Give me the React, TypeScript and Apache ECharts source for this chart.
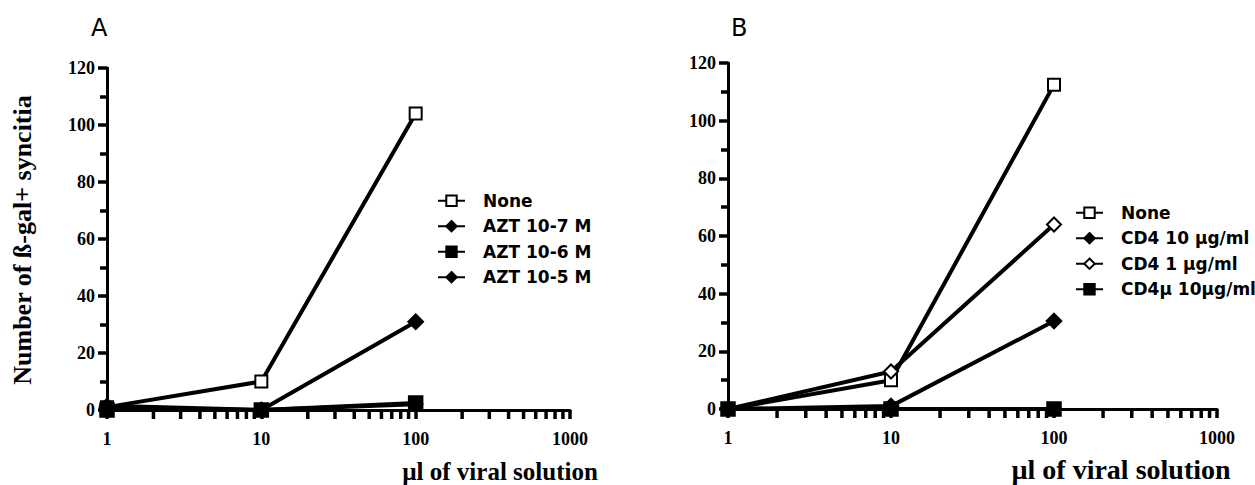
import React, { useEffect, useRef } from "react";
import * as echarts from "echarts";

const xTickLabels = ["1", "10", "100", "1000"];
const minorTickX = [2, 3, 4, 5, 6, 7, 8, 9, 20, 30, 40, 50, 60, 70, 80, 90, 200, 300, 400, 500, 600, 700, 800, 900];
const volumes = [1, 10, 100];

const namesA = ["None", "AZT 10-7 M", "AZT 10-6 M", "AZT 10-5 M"];
const noneA = [1, 10, 104];
const azt7 = [1, 0, 31];
const azt6 = [0, 0, 2.5];
const azt5 = [1.5, 0, 2];

const namesB = ["None", "CD4 10 µg/ml", "CD4 1 µg/ml", "CD4µ 10µg/ml"];
const noneB = [0, 10, 112.5];
const cd4_10 = [0, 1, 30.5];
const cd4_1 = [0, 13, 64];
const cd4mu = [0, 0, 0];

const SERIF = "'Liberation Serif', 'Times New Roman', serif";
const SANS = "'DejaVu Sans', 'Liberation Sans', Arial, sans-serif";

function pairs(vals: number[]) {
  return volumes.map((v, i) => [v, vals[i]]);
}

export default function App() {
  const ref = useRef<HTMLDivElement>(null);
  useEffect(() => {
    if (!ref.current) return;
    const chart = echarts.init(ref.current, undefined, { renderer: "svg" });

    const xAxisBase = (gridIndex: number) => ({
      type: "log" as const,
      logBase: 10,
      gridIndex,
      min: 1,
      max: 1000,
      axisLine: { show: true, onZero: false, lineStyle: { color: "#000", width: 3 } },
      axisTick: { show: true, inside: false, length: 9, lineStyle: { color: "#000", width: 3.5, opacity: 1 } },
      axisLabel: {
        show: true,
        margin: 20,
        color: "#000",
        fontFamily: SERIF,
        fontWeight: "bold",
        fontSize: 18,
        formatter: (v: number) => {
          const s = String(Math.round(v));
          return xTickLabels.includes(s) ? s : "";
        },
      },
      splitLine: { show: false },
      minorTick: { show: false },
    });
    const yAxisBase = (gridIndex: number) => ({
      type: "value" as const,
      gridIndex,
      min: 0,
      max: 120,
      interval: 20,
      axisLine: { show: true, lineStyle: { color: "#000", width: 3 } },
      axisTick: { show: true, inside: false, length: 9, lineStyle: { color: "#000", width: 3.5, opacity: 1 } },
      minorTick: { show: true, splitNumber: 2, length: 7, lineStyle: { color: "#000", width: 3.5, opacity: 1 } },
      axisLabel: {
        margin: 12,
        color: "#000",
        fontFamily: SERIF,
        fontWeight: "bold",
        fontSize: 18,
      },
      splitLine: { show: false },
    });

    const lineSeries = (name: string, vals: number[], idx: number, symbol: string, size: number) => ({
      type: "line" as const,
      name,
      xAxisIndex: idx,
      yAxisIndex: idx,
      data: pairs(vals),
      symbol,
      symbolSize: size,
      showSymbol: true,
      clip: false,
      lineStyle: { color: "#000", width: 4 },
      itemStyle: { color: "#000", borderColor: "#000", borderWidth: 2.5 },
      emphasis: { disabled: true },
      z: 3,
    });

    const minorTicks = (idx: number) => ({
      type: "scatter" as const,
      name: "minor" + idx,
      xAxisIndex: idx,
      yAxisIndex: idx,
      data: minorTickX.map((v) => [v, 0]),
      symbol: "rect",
      symbolSize: [3.5, 8],
      symbolOffset: [0, 5],
      clip: false,
      silent: true,
      itemStyle: { color: "#000", opacity: 1 },
      z: 5,
    });

    const legendBase = {
      orient: "vertical" as const,
      itemWidth: 27,
      itemHeight: 13,
      itemGap: 8,
      padding: 0,
      selectedMode: false,
      textStyle: {
        color: "#000",
        fontFamily: SANS,
        fontWeight: "bold",
        fontSize: 17,
        lineHeight: 17.5,
        padding: [0, 0, 0, 13],
      },
    };

    chart.setOption({
      animation: false,
      backgroundColor: "#fff",
      grid: [
        { left: 107, top: 68, width: 463, height: 342 },
        { left: 728, top: 63, width: 489, height: 346 },
      ],
      xAxis: [xAxisBase(0), xAxisBase(1)],
      yAxis: [yAxisBase(0), yAxisBase(1)],
      legend: [
        { ...legendBase, left: 437, top: 192, data: namesA },
        { ...legendBase, left: 1075, top: 204, data: namesB },
      ],
      series: [
        minorTicks(0),
        minorTicks(1),
        lineSeries(namesA[0], noneA, 0, "emptyRect", 12),
        lineSeries(namesA[1], azt7, 0, "diamond", 14),
        lineSeries(namesA[2], azt6, 0, "rect", 13),
        lineSeries(namesA[3], azt5, 0, "diamond", 13),
        lineSeries(namesB[0], noneB, 1, "emptyRect", 12),
        lineSeries(namesB[1], cd4_10, 1, "diamond", 14),
        lineSeries(namesB[2], cd4_1, 1, "emptyDiamond", 14),
        lineSeries(namesB[3], cd4mu, 1, "rect", 13),
      ],
      graphic: [
        {
          type: "text",
          left: 91,
          top: 16,
          style: { text: "A", font: `normal 24px ${SANS}`, fill: "#000" },
        },
        {
          type: "text",
          left: 731,
          top: 16,
          style: { text: "B", font: `normal 24px ${SANS}`, fill: "#000" },
        },
        {
          type: "text",
          x: 22,
          y: 240,
          rotation: Math.PI / 2,
          style: {
            text: "Number of ß-gal+ syncitia",
            font: `bold 26px ${SERIF}`,
            fill: "#000",
            align: "center",
            verticalAlign: "middle",
          },
        },
        {
          type: "text",
          x: 500,
          y: 471,
          style: {
            text: "µl of viral solution",
            font: `bold 25px ${SERIF}`,
            fill: "#000",
            align: "center",
            verticalAlign: "middle",
          },
        },
        {
          type: "text",
          x: 1121,
          y: 469,
          style: {
            text: "µl of viral solution",
            font: `bold 28px ${SERIF}`,
            fill: "#000",
            align: "center",
            verticalAlign: "middle",
          },
        },
      ],
    });
    return () => chart.dispose();
  }, []);
  return <div ref={ref} style={{ width: 1255, height: 485, position: "absolute", left: 0, top: 0 }} />;
}
